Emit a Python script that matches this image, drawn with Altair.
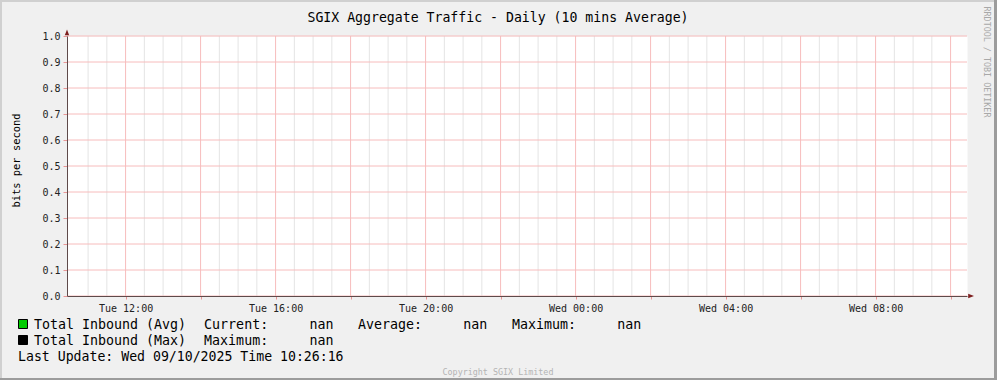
import altair as alt
import pandas as pd

# ---------------- data ----------------
TITLE = "SGIX Aggregate Traffic - Daily (10 mins Average)"
Y_TITLE = "bits per second"
START = "2025-09-09T10:26:16Z"
END = "2025-09-10T10:26:16Z"
Y_TICKS = [0.0, 0.1, 0.2, 0.3, 0.4, 0.5, 0.6, 0.7, 0.8, 0.9, 1.0]
# traffic series: no data (all nan)
SERIES_NAMES = ["Total Inbound (Avg)", "Total Inbound (Max)"]
SERIES_COLORS = ["#00cc00", "#000000"]
AVG_STATS_LABELS = ["Current:", "Average:", "Maximum:"]
AVG_STATS_VALUES = ["nan", "nan", "nan"]
MAX_STATS_LABELS = ["Maximum:"]
MAX_STATS_VALUES = ["nan"]
LAST_UPDATE = "Last Update: Wed 09/10/2025 Time 10:26:16"
WATERMARK = "RRDTOOL / TOBI OETIKER"
COPYRIGHT = "Copyright SGIX Limited"

# grid times (30 min minor grid, 2 h major grid)
grid_all = pd.date_range("2025-09-09 11:00", "2025-09-10 10:00", freq="30min")
MAJOR_TIMES = [t for t in grid_all if t.minute == 0 and t.hour % 2 == 0]
MINOR_TIMES = [t for t in grid_all if not (t.minute == 0 and t.hour % 2 == 0)]


def iso(t):
    return t.strftime("%Y-%m-%dT%H:%M:%SZ")


def to_ms(s):
    return int(pd.Timestamp(s).value // 10**6)


start_ms = to_ms(START)
end_ms = to_ms(END)

minor_df = pd.DataFrame({"t": [iso(t) for t in MINOR_TIMES]})
major_df = pd.DataFrame({"t": [iso(t) for t in MAJOR_TIMES]})
ytick_df = pd.DataFrame({"v": Y_TICKS})

# ---------------- style ----------------
MONO = "DejaVu Sans Mono"
RED_GRID = "#f7bcbc"
MINOR_GRID = "#e4e4e4"
AXIS_COLOR = "#5e4a4a"
ARROW_COLOR = "#7d1e1e"
TICK_COLOR = "#e89696"

xscale = alt.Scale(type="utc", domain=[start_ms, end_ms])
yscale = alt.Scale(domain=[0, 1], nice=False, zero=False)

xaxis = alt.Axis(
    values=[to_ms(iso(t)) for t in MAJOR_TIMES],
    labelExpr="utchours(datum.value) % 4 == 0 ? utcFormat(datum.value, '%a %H:%M') : ''",
    grid=False,
    domainColor=AXIS_COLOR,
    domainWidth=1,
    tickColor=TICK_COLOR,
    tickSize=3,
    labelFont=MONO,
    labelFontSize=10,
    labelColor="#222222",
    labelPadding=4,
    labelAngle=0,
    labelFlush=False,
    labelOverlap=False,
    title="",
    zindex=1,
)

yaxis = alt.Axis(
    values=Y_TICKS,
    format=".1f",
    grid=False,
    domainColor=AXIS_COLOR,
    domainWidth=1,
    tickColor=TICK_COLOR,
    tickSize=4,
    labelFont=MONO,
    labelFontSize=10,
    labelColor="#222222",
    labelPadding=3,
    labelOverlap=False,
    labelFlush=False,
    title="",
    zindex=1,
)

minor = alt.Chart(minor_df).mark_rule(color=MINOR_GRID, strokeWidth=1).encode(
    x=alt.X("t:T", scale=xscale, axis=xaxis)
)

major = alt.Chart(major_df).mark_rule(color=RED_GRID, strokeWidth=1).encode(
    x=alt.X("t:T", scale=xscale, axis=xaxis)
)

hgrid = alt.Chart(ytick_df).mark_rule(color=RED_GRID, strokeWidth=1).encode(
    y=alt.Y("v:Q", scale=yscale, axis=yaxis)
)

arrow_up = alt.Chart(pd.DataFrame({"t": [START], "v": [1.0]})).mark_point(
    shape="M -0.55 -0.2 L 0.55 -0.2 L 0 -1.6 Z",
    filled=True, size=64, color=ARROW_COLOR, opacity=1,
).encode(x=alt.X("t:T", scale=xscale, axis=xaxis), y=alt.Y("v:Q", scale=yscale, axis=yaxis))

arrow_right = alt.Chart(pd.DataFrame({"t": [END], "v": [0.0]})).mark_point(
    shape="M 0.3 -0.55 L 0.3 0.55 L 1.75 0 Z",
    filled=True, size=64, color=ARROW_COLOR, opacity=1,
).encode(x=alt.X("t:T", scale=xscale, axis=xaxis), y=alt.Y("v:Q", scale=yscale, axis=yaxis))

one = pd.DataFrame({"k": [0]})


def text(s, x, y, size, color="#000000", align="left", baseline="alphabetic", angle=0):
    return alt.Chart(one).mark_text(
        text=s, font=MONO, fontSize=size, color=color, align=align,
        baseline=baseline, angle=angle,
    ).encode(x=alt.value(x), y=alt.value(y))


def rule_h(x1, x2, y, color, w):
    return alt.Chart(one).mark_rule(color=color, strokeWidth=w).encode(
        x=alt.value(x1), x2=alt.value(x2), y=alt.value(y)
    )


def rule_v(x, y1, y2, color, w):
    return alt.Chart(one).mark_rule(color=color, strokeWidth=w).encode(
        x=alt.value(x), y=alt.value(y1), y2=alt.value(y2)
    )


OX, OY = 67, 36  # plot origin in page pixels
LEG = 13.3
ADV = 8.1

layers = [minor, major, hgrid, arrow_up, arrow_right]

# title, y title, watermark, copyright
layers.append(text(TITLE, 498 - OX, 22 - OY, 13.2, align="center"))
layers.append(text(Y_TITLE, 19.7 - OX, 160.5 - OY, 10.4, align="center", angle=270))
layers.append(text(WATERMARK, 984 - OX, 62 - OY, 8.4, color="#a8a8a8", align="center", angle=90))
layers.append(text(COPYRIGHT, 498 - OX, 371.7 - OY, 8.4, color="#b4b4b4", align="center", baseline="middle"))

# legend
for i, (name, col) in enumerate(zip(SERIES_NAMES, SERIES_COLORS)):
    top = 319 + 16 * i
    layers.append(
        alt.Chart(one).mark_rect(fill=col, stroke="#000000", strokeWidth=1).encode(
            x=alt.value(18.5 - OX), x2=alt.value(27.5 - OX),
            y=alt.value(top + 0.5 - OY), y2=alt.value(top + 9.5 - OY),
        )
    )
    base = 328.7 + 16 * i - OY
    layers.append(text(name, 34 - OX, base, LEG))
    labels = AVG_STATS_LABELS if i == 0 else MAX_STATS_LABELS
    values = AVG_STATS_VALUES if i == 0 else MAX_STATS_VALUES
    for j, (lab, val) in enumerate(zip(labels, values)):
        col_lab = 21 + 19 * j
        layers.append(text(lab, 34 + col_lab * ADV - OX, base, LEG))
        layers.append(text(val, 34 + (col_lab + 13) * ADV - OX, base, LEG))

layers.append(text(LAST_UPDATE, 18 - OX, 360.7 - OY, 13.2))

# page border
layers.append(rule_h(-OX, 997 - OX, 1 - OY, "#d0d0d0", 2))
layers.append(rule_v(1 - OX, -OY, 380 - OY, "#d0d0d0", 2))
layers.append(rule_v(995.5 - OX, -OY, 380 - OY, "#9c9c9c", 3))
layers.append(rule_h(-OX, 997 - OX, 379 - OY, "#9c9c9c", 2))

chart = (
    alt.layer(*layers)
    .properties(
        width=900,
        height=260,
        padding={"left": OX, "top": OY, "right": 997 - OX - 900, "bottom": 380 - OY - 260},
        autosize=alt.AutoSizeParams(type="none"),
        background="#f0f0f0",
    )
    .configure_view(fill="white", strokeOpacity=0)
)

chart.save("out.html", embed_options={"renderer": "svg", "actions": False})
